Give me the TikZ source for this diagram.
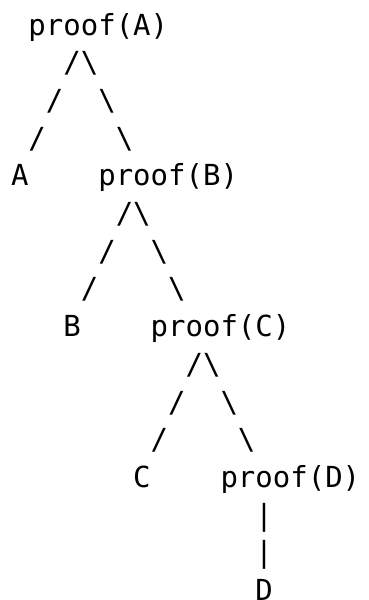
\documentclass[tikz,border=0pt]{standalone}
\usepackage{fontspec}
\newfontfamily\treefont{DejaVu Sans Mono}
\begin{document}
\begin{tikzpicture}[x=17.46pt, y=-37.7pt,
		ascii/.style={anchor=base west, inner sep=0pt, outer sep=0pt, font={\treefont\fontsize{29}{35}\selectfont}}]
			\useasboundingbox (-11pt,35pt) rectangle (357pt,-565pt);
			% proof nodes and leaves, (column, line)
			\node[ascii] (proofA) at (1, 0) {proof(A)};
			\node[ascii] (leafA) at (0, 4) {A};
			\node[ascii] (proofB) at (5, 4) {proof(B)};
			\node[ascii] (leafB) at (3, 8) {B};
			\node[ascii] (proofC) at (8, 8) {proof(C)};
			\node[ascii] (leafC) at (7, 12) {C};
			\node[ascii] (proofD) at (12, 12) {proof(D)};
			\node[ascii] (leafD) at (14, 15) {D};
			% branches
			\foreach \a/\l [count = \i] in {3/1, 6/5, 10/9}
				{
					\foreach \k in {0, 1, 2}
						{
							\node[ascii] (left\i\k) at (\a-\k, \l+\k) {/};
							\node[ascii] (right\i\k) at (\a+1+\k, \l+\k) {\textbackslash};
						}
				}
			\foreach \l [count = \i] in {13, 14}
				{
					\node[ascii] (bar\i) at (14, \l) {|};
				}
		\end{tikzpicture}
\end{document}
